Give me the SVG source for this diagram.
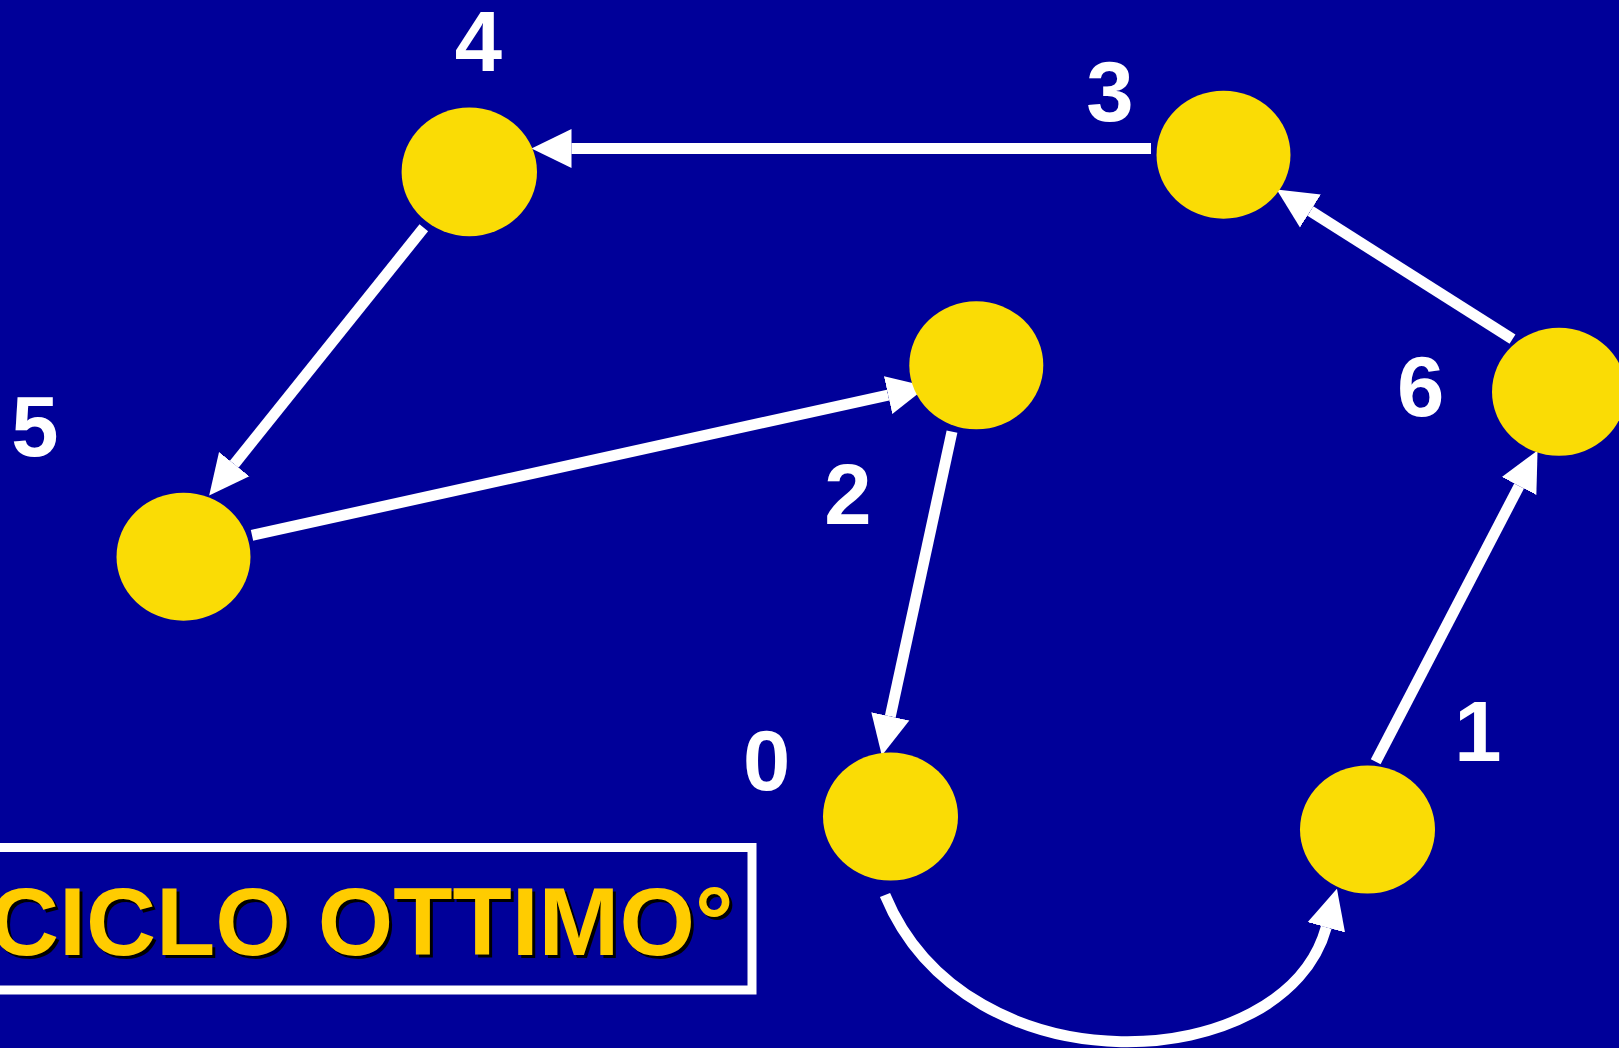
<svg xmlns="http://www.w3.org/2000/svg" width="1619" height="1048" viewBox="0 0 1619 1048">
<style>
.node{fill:#FADC05;}
.lbl{font-family:"Liberation Sans",Arial,sans-serif;font-weight:bold;font-size:85px;fill:#FFFFFF;text-anchor:middle;}
.edge{fill:none;stroke:#FFFFFF;stroke-width:11;marker-end:url(#ah);}
.title{font-family:"Liberation Sans",Arial,sans-serif;font-weight:bold;font-size:97px;}
</style>
<defs>
<marker id="ah" markerUnits="userSpaceOnUse" markerWidth="40" markerHeight="40" refX="0" refY="17.5" orient="auto" viewBox="0 0 36 35">
<path d="M0,0 L36,17.5 L0,35 z" fill="#FFFFFF"/>
</marker>
</defs>
<rect x="0" y="0" width="1619" height="1048" fill="#000099"/>
<g id="connectors">
<path class="edge" d="M1151,148.5 L571.5,148.5"/>
<path class="edge" d="M423.8,227.8 L234.2,464.2"/>
<path class="edge" d="M252,535.3 L888.1,395.1"/>
<path class="edge" d="M952,431.7 L890.3,716.3"/>
<path class="edge" d="M885,895 C967.3,1093.7 1285.1,1076.6 1326.3,927.3"/>
<path class="edge" d="M1375.7,761.7 L1519.1,486"/>
<path class="edge" d="M1512.5,339.2 L1310.4,211"/>
</g>
<g id="node0"><ellipse class="node" cx="890.5" cy="816.5" rx="67.5" ry="64"/><text class="lbl" x="766.7" y="790">0</text></g>
<g id="node1"><ellipse class="node" cx="1367.5" cy="829.5" rx="67.5" ry="64"/><text class="lbl" x="1478" y="760.7">1</text></g>
<g id="node2"><ellipse class="node" cx="976.3" cy="365.3" rx="67" ry="64"/><text class="lbl" x="848" y="524">2</text></g>
<g id="node3"><ellipse class="node" cx="1223.5" cy="154.7" rx="67" ry="64"/><text class="lbl" x="1110" y="121">3</text></g>
<g id="node4"><ellipse class="node" cx="469.3" cy="171.9" rx="67.7" ry="64.3"/><text class="lbl" x="478.5" y="71">4</text></g>
<g id="node5"><ellipse class="node" cx="183.5" cy="556.7" rx="67" ry="64"/><text class="lbl" x="35" y="456">5</text></g>
<g id="node6"><ellipse class="node" cx="1559" cy="391.8" rx="67" ry="64"/><text class="lbl" x="1420.7" y="416">6</text></g>
<g id="title">
<rect x="-10" y="847.5" width="762" height="142.5" fill="none" stroke="#FFFFFF" stroke-width="9"/>
<text class="title" x="-8" y="958" fill="#000000">CICLO OTTIMO°</text>
<text class="title" x="-11" y="955" fill="#FFCC00">CICLO OTTIMO°</text>
</g>
</svg>
